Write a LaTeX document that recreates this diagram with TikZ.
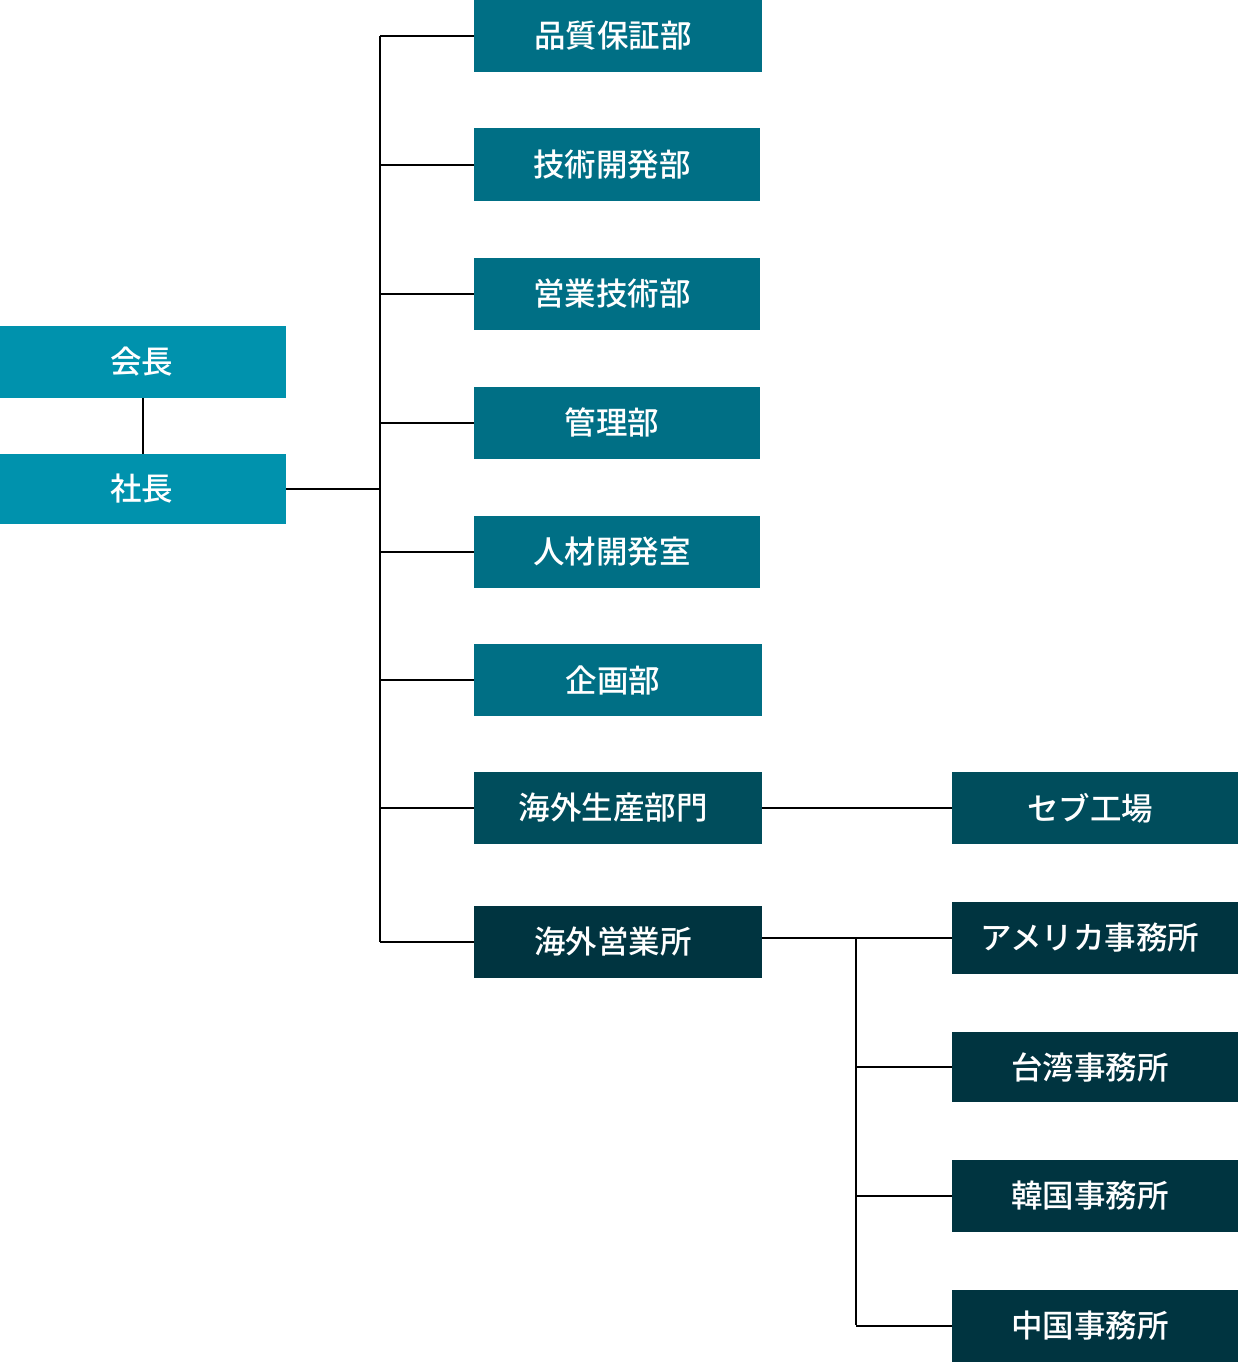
\documentclass[tikz,border=0pt]{standalone}
\usepackage{fontspec}
\newfontfamily\cjk{Noto Sans CJK JP}[BoldFont={* Medium}]
\definecolor{cTop}{HTML}{0092AD}
\definecolor{cMid}{HTML}{006F85}
\definecolor{cProd}{HTML}{004D5C}
\definecolor{cSales}{HTML}{003440}
\begin{document}
\begin{tikzpicture}[x=1pt,y=-1pt,
  box/.style={rectangle,inner sep=0pt,minimum width=288pt,minimum height=72pt,text=white,font=\cjk\bfseries\fontsize{31.5}{36}\selectfont},
  shifted/.style={execute at end node={\kern10pt}},
  topbox/.style={box,fill=cTop,minimum width=286pt,execute at end node={\kern3pt}},
  midbox/.style={box,shifted,fill=cMid},
  prodbox/.style={box,shifted,fill=cProd},
  salesbox/.style={box,shifted,fill=cSales},
  rbox/.style={minimum width=286pt},
  conn/.style={draw=black,line width=2pt}]
\useasboundingbox (0,0) rectangle (1238,1362);
% left
\node[topbox] (kaicho) at (143,362) {会長};
\node[topbox,minimum height=70pt] (shacho) at (143,489) {社長};
% middle column
\node[midbox] (m1) at (618,36) {品質保証部};
\node[midbox,minimum width=286pt] (m2) at (617,164.5) {技術開発部};
\node[midbox,minimum width=286pt] (m3) at (617,293.5) {営業技術部};
\node[midbox,minimum width=286pt] (m4) at (617,422.5) {管理部};
\node[midbox,minimum width=286pt] (m5) at (617,551.5) {人材開発室};
\node[midbox] (m6) at (618,680) {企画部};
\node[prodbox] (m7) at (618,808) {海外生産部門};
\node[salesbox] (m8) at (618,942) {海外営業所};
% right column
\node[prodbox,rbox] (r1) at (1095,808) {セブ工場};
\node[salesbox,rbox] (r2) at (1095,938) {アメリカ事務所};
\node[salesbox,rbox,minimum height=70pt] (r3) at (1095,1067) {台湾事務所};
\node[salesbox,rbox] (r4) at (1095,1196) {韓国事務所};
\node[salesbox,rbox] (r5) at (1095,1326) {中国事務所};
% trunk coordinates
\coordinate (tTop) at (380,36);
\coordinate (tBot) at (380,942);
\coordinate (sTop) at (856,938);
\coordinate (sBot) at (856,1325);
% connectors
\draw[conn] (kaicho.south) -- (shacho.north);
\draw[conn] (tTop) -- (tBot);
\draw[conn] (shacho.east) -- (shacho.east -| tTop);
\foreach \n in {m1,m2,m3,m4,m5,m6,m7,m8}
  \draw[conn] (\n.west) -- (\n.west -| tTop);
\draw[conn] (m7.east) -- (r1.west);
\draw[conn] (sTop) -- (sBot);
\draw[conn] (m8.east |- sTop) -- (r2.west);
\foreach \n in {r3,r4,r5}
  \draw[conn] (\n.west) -- (\n.west -| sTop);
\end{tikzpicture}
\end{document}
